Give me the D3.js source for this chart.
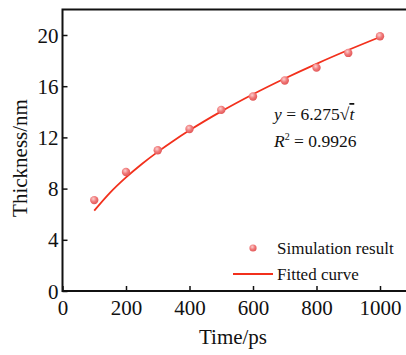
<!DOCTYPE html>
<html>
<head>
<meta charset="utf-8">
<script src="https://cdn.jsdelivr.net/npm/d3@7"></script>
<style>
  body { margin: 0; background: #fff; }
  svg text { font-family: "Liberation Serif", serif; fill: #111; }
</style>
</head>
<body>
<div id="chart"></div>
<script>
// simulation points (time in ps, thickness in nm)
var simTime = [100, 200, 300, 400, 500, 600, 700, 800, 900, 1000];
var simThickness = [7.1, 9.3, 11.0, 12.66, 14.15, 15.2, 16.45, 17.45, 18.6, 19.9];

// fitted curve y = 6.275*sqrt(t)
var fitTime = [100, 150, 200, 250, 300, 350, 400, 500, 600, 700, 800, 900, 1000];
var fitThickness = [6.275, 7.685, 8.874, 9.922, 10.869, 11.740, 12.55, 14.031, 15.371, 16.602, 17.749, 18.825, 19.843];

var xTicks = [0, 200, 400, 600, 800, 1000];
var yTicks = [0, 4, 8, 12, 16, 20];

var width = 406, height = 355;
var left = 62.5, bottom = 291;

var svg = d3.select("#chart").append("svg")
    .attr("width", width)
    .attr("height", height)
    .attr("font-family", "Liberation Serif");

// scales
var x = d3.scaleLinear().domain([0, 1090]).range([left, left + 1090 * 0.3175]);
var y = d3.scaleLinear().domain([0, 22]).range([bottom, bottom - 22 * 12.8]);

var defs = svg.append("defs");
var grad = defs.append("radialGradient").attr("id", "ball")
    .attr("cx", "40%").attr("cy", "35%").attr("r", "65%");
grad.append("stop").attr("offset", "0%").attr("stop-color", "#fbd0d0");
grad.append("stop").attr("offset", "55%").attr("stop-color", "#f07878");
grad.append("stop").attr("offset", "100%").attr("stop-color", "#e25858");

// frame (right side runs off the picture)
svg.append("path")
    .attr("d", "M" + (width + 5) + "," + y(22) + "H" + left + "V" + bottom + "H" + (width + 5))
    .attr("fill", "none")
    .attr("stroke", "#111")
    .attr("stroke-width", 2);

// x axis, ticks pointing inward
var xAxis = svg.append("g")
    .attr("transform", "translate(0," + bottom + ")");
xAxis.call(d3.axisBottom(x).tickValues(d3.range(0, 1001, 100)).tickSize(-3.5).tickFormat(""));
xAxis.call(d3.axisBottom(x).tickValues(xTicks).tickSize(-5).tickFormat(d3.format("d")));
xAxis.attr("font-family", null);
xAxis.selectAll(".domain").remove();
xAxis.selectAll("line").attr("stroke", "#111").attr("stroke-width", 1.5);
xAxis.selectAll("text")
    .attr("y", 24)
    .attr("dy", 0)
    .style("font-size", "21px");

// y axis, ticks pointing inward
var yAxis = svg.append("g")
    .attr("transform", "translate(" + left + ",0)");
yAxis.call(d3.axisLeft(y).tickValues(d3.range(0, 23, 2)).tickSize(-3.5).tickFormat(""));
yAxis.call(d3.axisLeft(y).tickValues(yTicks).tickSize(-5));
yAxis.attr("font-family", null);
yAxis.selectAll(".domain").remove();
yAxis.selectAll("line").attr("stroke", "#111").attr("stroke-width", 1.5);
yAxis.selectAll("text")
    .attr("x", -4)
    .attr("dy", "0.34em")
    .style("font-size", "21px");

// axis titles
svg.append("text")
    .attr("x", 233).attr("y", 344)
    .attr("text-anchor", "middle")
    .style("font-size", "21px")
    .text("Time/ps");

svg.append("text")
    .attr("transform", "translate(27,158) rotate(-90)")
    .attr("text-anchor", "middle")
    .style("font-size", "21px")
    .text("Thickness/nm");

// fitted curve
var line = d3.line()
    .x(function(d, i) { return x(fitTime[i]); })
    .y(function(d) { return y(d); })
    .curve(d3.curveMonotoneX);

svg.append("path")
    .datum(fitThickness)
    .attr("fill", "none")
    .attr("stroke", "#f2301c")
    .attr("stroke-width", 1.8)
    .attr("d", line);

// simulation points
svg.selectAll("circle.sim")
    .data(simThickness)
  .enter().append("circle")
    .attr("class", "sim")
    .attr("cx", function(d, i) { return x(simTime[i]); })
    .attr("cy", function(d) { return y(d); })
    .attr("r", 4.2)
    .attr("fill", "url(#ball)");

// fit equation
var eq = svg.append("text").attr("x", 274).attr("y", 120).style("font-size", "17.5px");
eq.append("tspan").style("font-style", "italic").text("y");
eq.append("tspan").text(" = 6.275\u221A");
eq.append("tspan").style("font-style", "italic").style("text-decoration", "overline").text("t");

var r2 = svg.append("text").attr("x", 274).attr("y", 147).style("font-size", "17.5px");
r2.append("tspan").style("font-style", "italic").text("R");
r2.append("tspan").attr("dy", -7).style("font-size", "10px").text("2");
r2.append("tspan").attr("dy", 7).text(" = 0.9926");

// legend
svg.append("circle")
    .attr("cx", 253).attr("cy", 248).attr("r", 3.6)
    .attr("fill", "url(#ball)");
svg.append("text")
    .attr("x", 277).attr("y", 254)
    .style("font-size", "17px")
    .text("Simulation result");

svg.append("line")
    .attr("x1", 233).attr("x2", 273)
    .attr("y1", 274).attr("y2", 274)
    .attr("stroke", "#f2301c")
    .attr("stroke-width", 1.8);
svg.append("text")
    .attr("x", 277).attr("y", 280)
    .style("font-size", "17px")
    .text("Fitted curve");
</script>
</body>
</html>
